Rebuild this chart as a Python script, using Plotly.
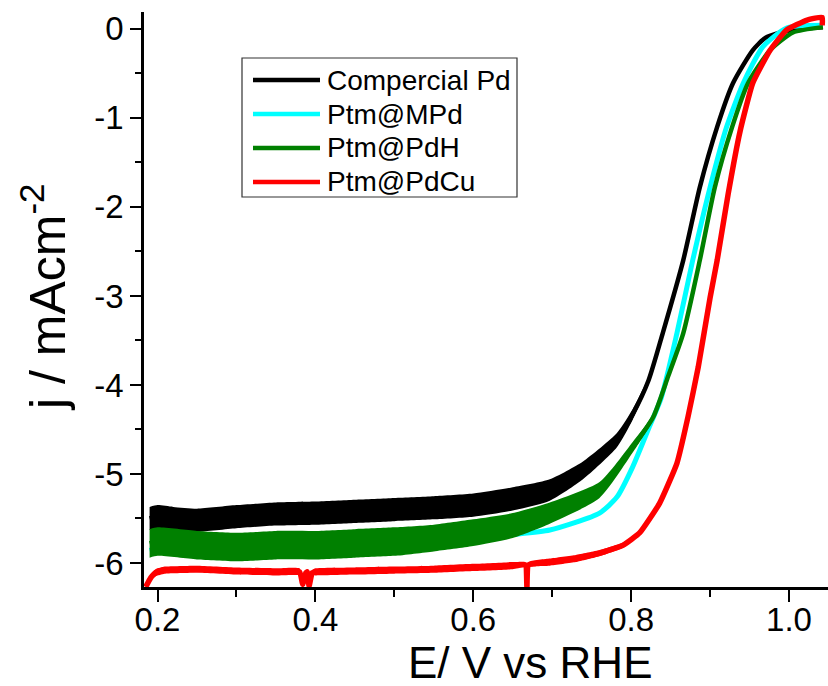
import numpy as np
import plotly.graph_objects as go

# ---------------- data ----------------
names = ["Compercial Pd", "Ptm@MPd", "Ptm@PdH", "Ptm@PdCu"]
colors = ["#000000", "#00ffff", "#008000", "#ff0000"]

E_black = [0.19, 0.2, 0.22, 0.25, 0.3, 0.35, 0.4, 0.45, 0.5, 0.55, 0.6, 0.65, 0.697, 0.739,
           0.782, 0.802, 0.822, 0.840, 0.866, 0.887, 0.909, 0.929, 0.954, 0.970, 0.989, 1.010,
           1.043]
j_black = [-5.50, -5.48, -5.50, -5.52, -5.48, -5.45, -5.44, -5.42, -5.40, -5.38, -5.35, -5.28,
           -5.18, -4.96, -4.62, -4.33, -3.95, -3.42, -2.60, -1.78, -1.10, -0.61, -0.24, -0.10,
           -0.04, 0.00, 0.02]
noise_black = [0.13, 0.13, 0.13, 0.13, 0.13, 0.13, 0.13, 0.13, 0.13, 0.13, 0.13, 0.13, 0.12, 0.10,
               0.08, 0.06, 0.04, 0.02, 0, 0, 0, 0, 0, 0, 0, 0, 0]

E_cyan = [0.19, 0.2, 0.25, 0.3, 0.35, 0.4, 0.45, 0.5, 0.55, 0.6, 0.65, 0.697, 0.760, 0.782,
          0.802, 0.824, 0.838, 0.858, 0.878, 0.900, 0.921, 0.942, 0.967, 0.997, 1.043]
j_cyan = [-5.86, -5.84, -5.83, -5.82, -5.80, -5.80, -5.79, -5.77, -5.75, -5.72, -5.68, -5.63,
          -5.44, -5.26, -4.92, -4.45, -4.15, -3.42, -2.60, -1.78, -1.10, -0.61, -0.20, 0.01,
          0.04]

E_green = [0.19, 0.2, 0.25, 0.3, 0.35, 0.4, 0.45, 0.5, 0.55, 0.6, 0.65, 0.697, 0.760, 0.802,
           0.828, 0.847, 0.866, 0.887, 0.906, 0.928, 0.948, 0.976, 1.005, 1.043]
j_green = [-5.78, -5.76, -5.80, -5.82, -5.80, -5.80, -5.78, -5.76, -5.72, -5.66, -5.58, -5.44,
           -5.18, -4.70, -4.36, -3.90, -3.42, -2.60, -1.78, -1.10, -0.61, -0.24, -0.04, 0.02]
noise_green = [0.16, 0.16, 0.16, 0.16, 0.16, 0.16, 0.16, 0.16, 0.15, 0.15, 0.14, 0.12, 0.09, 0.06,
               0.03, 0.01, 0, 0, 0, 0, 0, 0, 0, 0]

E_red = [0.185, 0.188, 0.192, 0.196, 0.2, 0.21, 0.25, 0.3, 0.35, 0.38, 0.384, 0.388, 0.39,
         0.392, 0.396, 0.4, 0.45, 0.5, 0.55, 0.6, 0.65, 0.666, 0.668, 0.670, 0.697, 0.73, 0.760,
         0.79, 0.811, 0.836, 0.858, 0.872, 0.885, 0.900, 0.909, 0.923, 0.938, 0.954, 0.976,
         0.997, 1.023, 1.042, 1.042]
j_red = [-6.27, -6.22, -6.16, -6.12, -6.10, -6.08, -6.07, -6.09, -6.10, -6.10, -6.24, -6.11,
         -6.10, -6.26, -6.11, -6.10, -6.09, -6.08, -6.07, -6.05, -6.03, -6.02, -6.27, -6.02,
         -5.99, -5.95, -5.89, -5.80, -5.66, -5.33, -4.88, -4.36, -3.80, -3.02, -2.60, -1.85,
         -1.15, -0.61, -0.24, -0.01, 0.10, 0.13, 0.04]
noise_red = [0.0, 0.015, 0.03, 0.04, 0.04, 0.04, 0.04, 0.04, 0.04, 0.04, 0.0, 0.03, 0.03,
             0.0, 0.03, 0.04, 0.04, 0.04, 0.04, 0.04, 0.04, 0.03, 0.0, 0.03, 0.04, 0.04,
             0.035, 0.03, 0.02, 0.01, 0, 0, 0, 0, 0, 0, 0, 0, 0, 0, 0, 0, 0]

x_ticks = [0.2, 0.4, 0.6, 0.8, 1.0]
x_ticklabels = ["0.2", "0.4", "0.6", "0.8", "1.0"]
y_ticks = [0, -1, -2, -3, -4, -5, -6]
y_ticklabels = ["0", "-1", "-2", "-3", "-4", "-5", "-6"]

x_title = "E/ V vs RHE"
y_title = "j / mAcm<sup>-2</sup>"

# ---------------- figure ----------------
W, H = 828, 686
ML, MR, MT, MB = 144, 0, 12, 99
PW, PH = W - ML - MR, H - MT - MB
FONT = "Liberation Sans, Arial, Helvetica, sans-serif"


def px_x(px):
    return (px - ML) / PW


def px_y(py):
    return (H - MB - py) / PH


fig = go.Figure()
SPL = dict(shape="spline", smoothing=0.6)


def add_band(E, j, noise, color, spl=SPL):
    E = np.asarray(E)
    j = np.asarray(j)
    n = np.asarray(noise)
    fig.add_trace(go.Scatter(x=E, y=j + n, mode="lines", line=dict(width=0, color=color, **spl),
                             showlegend=False, hoverinfo="skip"))
    fig.add_trace(go.Scatter(x=E, y=j - n, mode="lines", line=dict(width=0, color=color, **spl),
                             fill="tonexty", fillcolor=color, showlegend=False, hoverinfo="skip"))


add_band(E_black, j_black, noise_black, colors[0])
fig.add_trace(go.Scatter(x=E_black, y=j_black, mode="lines", name=names[0],
                         line=dict(color=colors[0], width=4.5, **SPL), showlegend=False))
fig.add_trace(go.Scatter(x=E_cyan, y=j_cyan, mode="lines", name=names[1],
                         line=dict(color=colors[1], width=5, **SPL), showlegend=False))
add_band(E_green, j_green, noise_green, colors[2])
fig.add_trace(go.Scatter(x=E_green, y=j_green, mode="lines", name=names[2],
                         line=dict(color=colors[2], width=4.5, **SPL), showlegend=False))
RSPL = dict(shape="spline", smoothing=0.4)
add_band(E_red, j_red, noise_red, colors[3], RSPL)
fig.add_trace(go.Scatter(x=E_red, y=j_red, mode="lines", name=names[3],
                         line=dict(color=colors[3], width=5.5, **RSPL), showlegend=False))

# manual legend (box, line samples, labels)
shapes = [dict(type="rect", xref="paper", yref="paper",
               x0=px_x(242), x1=px_x(517), y0=px_y(197), y1=px_y(58),
               line=dict(color="#333333", width=1.2), fillcolor="rgba(0,0,0,0)")]
annotations = []
for i, (nm, c) in enumerate(zip(names, colors)):
    yy = 80 + 34 * i
    shapes.append(dict(type="line", xref="paper", yref="paper",
                       x0=px_x(253), x1=px_x(320), y0=px_y(yy), y1=px_y(yy),
                       line=dict(color=c, width=4.5)))
    annotations.append(dict(text=nm, xref="paper", yref="paper", x=px_x(325), y=px_y(yy),
                            xanchor="left", yanchor="middle", showarrow=False,
                            font=dict(family=FONT, size=28, color="black")))

annotations.append(dict(text=x_title, xref="paper", yref="paper", x=px_x(530), y=px_y(662),
                        xanchor="center", yanchor="middle", showarrow=False,
                        font=dict(family=FONT, size=44, color="black")))
annotations.append(dict(text=y_title, xref="paper", yref="paper", x=px_x(44), y=px_y(297),
                        xanchor="center", yanchor="middle", showarrow=False, textangle=-90,
                        font=dict(family=FONT, size=50, color="black")))

fig.update_layout(
    width=W, height=H,
    margin=dict(l=ML, r=MR, t=MT, b=MB, pad=0),
    paper_bgcolor="white", plot_bgcolor="white",
    font=dict(family=FONT, color="black"),
    shapes=shapes, annotations=annotations,
    showlegend=False,
)
fig.update_xaxes(
    range=[0.1829, 1.0494], showgrid=False, zeroline=False,
    showline=True, linecolor="black", linewidth=2.5,
    ticks="outside", ticklen=12, tickwidth=2, tickcolor="black",
    tickvals=x_ticks, ticktext=x_ticklabels, ticklabelstandoff=-10,
    tickfont=dict(family=FONT, size=33, color="black"),
    minor=dict(ticks="outside", ticklen=7, tickwidth=2, tickcolor="black", dtick=0.1, tick0=0.2),
)
fig.update_yaxes(
    range=[-6.27, 0.19], showgrid=False, zeroline=False,
    showline=True, linecolor="black", linewidth=2.5,
    ticks="outside", ticklen=11, tickwidth=2, tickcolor="black",
    tickvals=y_ticks, ticktext=y_ticklabels,
    tickfont=dict(family=FONT, size=33, color="black"),
    minor=dict(ticks="outside", ticklen=6, tickwidth=2, tickcolor="black", dtick=0.5, tick0=0),
)

fig.write_html("out.html")
